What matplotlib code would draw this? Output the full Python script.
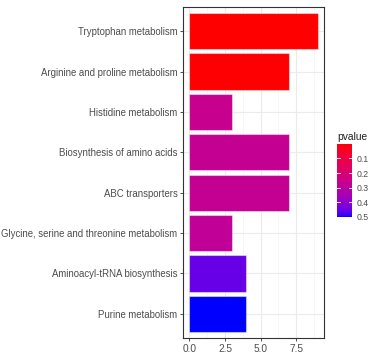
import numpy as np
import matplotlib
matplotlib.use('Agg')
import matplotlib.pyplot as plt
from matplotlib.colors import ListedColormap, Normalize

plt.rcParams['font.family'] = ['Liberation Sans', 'DejaVu Sans']

# pathway data, top to bottom as shown
pathways = ['Tryptophan metabolism', 'Arginine and proline metabolism',
            'Histidine metabolism', 'Biosynthesis of amino acids',
            'ABC transporters', 'Glycine, serine and threonine metabolism',
            'Aminoacyl-tRNA biosynthesis', 'Purine metabolism']
counts = [9, 7, 3, 7, 7, 3, 4, 4]
pvalues = [0.001, 0.004, 0.26, 0.27, 0.27, 0.28, 0.45, 0.50]
cbar_ticks = [0.1, 0.2, 0.3, 0.4, 0.5]


# ggplot-like red -> blue gradient, interpolated in Lab space
def rgb_to_lab(rgb):
    rgb = np.asarray(rgb, float)
    lin = np.where(rgb > 0.04045, ((rgb + 0.055) / 1.055) ** 2.4, rgb / 12.92)
    m = np.array([[0.4124, 0.3576, 0.1805],
                  [0.2126, 0.7152, 0.0722],
                  [0.0193, 0.1192, 0.9505]])
    xyz = m @ lin / np.array([0.95047, 1.0, 1.08883])
    f = np.where(xyz > 0.008856, np.cbrt(xyz), 7.787 * xyz + 16 / 116)
    return np.array([116 * f[1] - 16, 500 * (f[0] - f[1]), 200 * (f[1] - f[2])])


def lab_to_rgb(lab):
    L, a, b = lab
    fy = (L + 16) / 116
    fx = fy + a / 500
    fz = fy - b / 200
    f = np.array([fx, fy, fz])
    xyz = np.where(f ** 3 > 0.008856, f ** 3, (f - 16 / 116) / 7.787)
    xyz = xyz * np.array([0.95047, 1.0, 1.08883])
    minv = np.array([[3.2406, -1.5372, -0.4986],
                     [-0.9689, 1.8758, 0.0415],
                     [0.0557, -0.2040, 1.0570]])
    lin = minv @ xyz
    rgb = np.where(lin > 0.0031308, 1.055 * np.clip(lin, 0, None) ** (1 / 2.4) - 0.055, 12.92 * lin)
    return np.clip(rgb, 0, 1)


lab_lo = rgb_to_lab([1, 0, 0])
lab_hi = rgb_to_lab([0, 0, 1])
grad = [lab_to_rgb(lab_lo + t * (lab_hi - lab_lo)) for t in np.linspace(0, 1, 256)]
cmap = ListedColormap(grad)
norm = Normalize(vmin=min(pvalues), vmax=max(pvalues))

fig = plt.figure(figsize=(3.7, 3.55), dpi=100)
ax = fig.add_axes([183 / 370, 17 / 355, 141 / 370, 331 / 355])

ypos = np.arange(len(pathways))[::-1] + 1
bar_colors = [cmap(norm(p)) for p in pvalues]
ax.barh(ypos, counts, height=0.9, color=bar_colors,
        edgecolor=(1, 1, 1, 0.45), linewidth=0.8, zorder=3)

ax.set_xlim(-0.45, 9.45)
ax.set_ylim(0.4, len(pathways) + 0.6)
ax.set_xticks([0, 2.5, 5, 7.5])
ax.set_xticklabels(['0.0', '2.5', '5.0', '7.5'])
ax.set_xticks([1.25, 3.75, 6.25, 8.75], minor=True)
ax.set_yticks(ypos)
ax.set_yticklabels(pathways)
ax.grid(True, which='major', color='#EBEBEB', linewidth=0.8, zorder=0)
ax.grid(True, which='minor', axis='x', color='#F4F4F4', linewidth=0.5, zorder=0)
ax.tick_params(axis='y', which='major', labelsize=6.95, labelcolor='#4D4D4D',
               color='#333333', length=2.5, width=0.6, pad=1.5)
ax.tick_params(axis='x', which='major', labelsize=7.3, labelcolor='#4D4D4D',
               color='#333333', length=2.5, width=0.6, pad=1.5)
ax.tick_params(axis='x', which='minor', length=0)
for s in ax.spines.values():
    s.set_color('#333333')
    s.set_linewidth(0.8)

# colorbar legend, low values on top like ggplot
cax = fig.add_axes([337 / 370, 138 / 355, 15 / 370, 73 / 355])
cb = fig.colorbar(plt.cm.ScalarMappable(norm=norm, cmap=cmap), cax=cax)
cb.outline.set_visible(False)
cax.invert_yaxis()
cb.set_ticks(cbar_ticks)
cb.set_ticklabels(['0.1', '0.2', '0.3', '0.4', '0.5'])
cax.tick_params(labelsize=6.3, labelcolor='#4D4D4D', length=0, pad=3)
for t in cbar_ticks:
    cax.plot([0, 0.2], [t, t], color='white', lw=0.6, transform=cax.get_yaxis_transform())
    cax.plot([0.8, 1], [t, t], color='white', lw=0.6, transform=cax.get_yaxis_transform())
cax.set_title('pvalue', fontsize=7.4, color='#222222', loc='left', pad=3)

fig.savefig('out.png', dpi=100)
